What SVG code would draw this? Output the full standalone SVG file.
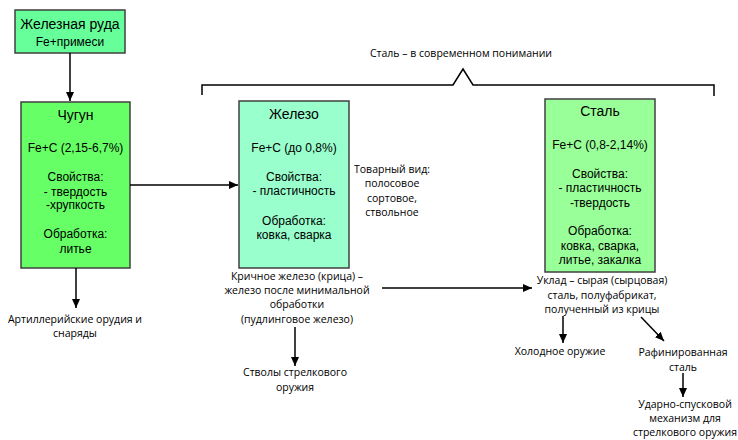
<svg xmlns="http://www.w3.org/2000/svg" width="738" height="440" viewBox="0 0 738 440">
<defs>
<marker id="ah" markerWidth="10" markerHeight="10" refX="9" refY="5" orient="auto" markerUnits="userSpaceOnUse">
<path d="M0,1 L9,5 L0,9 z" fill="#000"/>
</marker>
<style>
.box{stroke:#404040;stroke-width:1.5}
.bt{font-family:"Liberation Sans",Arial,sans-serif;font-size:12px;fill:#000;text-anchor:middle}
.tt{font-family:"Liberation Sans",Arial,sans-serif;font-size:14px;fill:#000;text-anchor:middle}
.lb{font-family:"Open Sans","Liberation Sans",sans-serif;font-size:10.5px;fill:#000;text-anchor:middle}
.cn{stroke:#000;stroke-width:1.5;fill:none}
.ar{marker-end:url(#ah)}
</style>
</defs>
<rect width="738" height="440" fill="#fff"/>

<g id="ore">
<rect class="box" x="15" y="10" width="110" height="43" fill="#66FF99"/>
<text class="tt" x="70" y="29">Железная руда</text>
<text class="bt" x="70" y="46">Fe+примеси</text>
</g>

<g id="cast-iron">
<rect class="box" x="21" y="102" width="109" height="166" fill="#66FF66"/>
<text class="tt" x="75.5" y="120">Чугун</text>
<text class="bt" x="75.5" y="152">Fe+C (2,15-6,7%)</text>
<text class="bt" x="75.5" y="181">Свойства:</text>
<text class="bt" x="75.5" y="196">- твердость</text>
<text class="bt" x="75.5" y="209">-хрупкость</text>
<text class="bt" x="75.5" y="238">Обработка:</text>
<text class="bt" x="75.5" y="253">литье</text>
</g>

<g id="iron">
<rect class="box" x="239" y="101" width="110" height="167" fill="#99FFCC"/>
<text class="tt" x="294" y="119">Железо</text>
<text class="bt" x="294" y="152">Fe+C (до 0,8%)</text>
<text class="bt" x="294" y="181">Свойства:</text>
<text class="bt" x="294" y="195">- пластичность</text>
<text class="bt" x="294" y="225">Обработка:</text>
<text class="bt" x="294" y="239">ковка, сварка</text>
</g>

<g id="steel">
<rect class="box" x="545" y="99" width="110" height="173" fill="#99FF99"/>
<text class="tt" x="600" y="116">Сталь</text>
<text class="bt" x="600" y="149">Fe+C (0,8-2,14%)</text>
<text class="bt" x="600" y="178">Свойства:</text>
<text class="bt" x="600" y="192">- пластичность</text>
<text class="bt" x="600" y="207">-твердость</text>
<text class="bt" x="600" y="235">Обработка:</text>
<text class="bt" x="600" y="250">ковка, сварка,</text>
<text class="bt" x="600" y="264">литье, закалка</text>
</g>

<g id="labels">
<text class="lb" x="461" y="57">Сталь – в современном понимании</text>
<text class="lb" x="392" y="173">Товарный вид:</text>
<text class="lb" x="392" y="187">полосовое</text>
<text class="lb" x="392" y="202">сортовое,</text>
<text class="lb" x="392" y="216">ствольное</text>
<text class="lb" x="297" y="280">Кричное железо (крица) –</text>
<text class="lb" x="297" y="294">железо после минимальной</text>
<text class="lb" x="297" y="308">обработки</text>
<text class="lb" x="297" y="323">(пудлинговое железо)</text>
<text class="lb" x="295" y="376">Стволы стрелкового</text>
<text class="lb" x="295" y="391">оружия</text>
<text class="lb" x="75" y="323">Артиллерийские орудия и</text>
<text class="lb" x="75" y="337">снаряды</text>
<text class="lb" x="602" y="284">Уклад – сырая (сырцовая)</text>
<text class="lb" x="602" y="299">сталь, полуфабрикат,</text>
<text class="lb" x="602" y="313">полученный из крицы</text>
<text class="lb" x="560" y="355">Холодное оружие</text>
<text class="lb" x="683" y="356">Рафинированная</text>
<text class="lb" x="683" y="371">сталь</text>
<text class="lb" x="685" y="408">Ударно-спусковой</text>
<text class="lb" x="685" y="422">механизм для</text>
<text class="lb" x="685" y="436">стрелкового оружия</text>
</g>

<g id="connectors">
<path class="cn" d="M202,95 L202,85 L453,85 L463,69 L473,85 L714,85 L714,96"/>
<line class="cn ar" x1="70" y1="53" x2="70" y2="101"/>
<line class="cn ar" x1="130" y1="185" x2="238" y2="185"/>
<line class="cn ar" x1="76" y1="268" x2="76" y2="308"/>
<line class="cn ar" x1="382" y1="288" x2="532" y2="288"/>
<line class="cn ar" x1="295" y1="327" x2="295" y2="366"/>
<line class="cn ar" x1="563" y1="316" x2="563" y2="343"/>
<line class="cn ar" x1="641" y1="317" x2="664" y2="341"/>
<line class="cn ar" x1="683" y1="373" x2="683" y2="397"/>
</g>
</svg>
